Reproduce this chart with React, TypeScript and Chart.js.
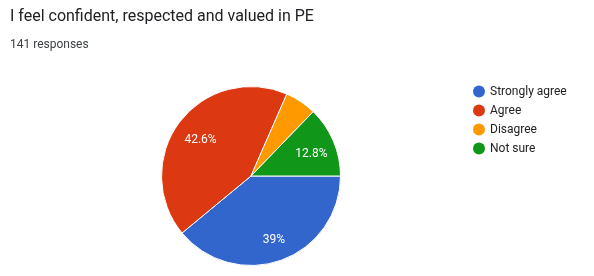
import React, { useEffect, useRef } from "react";
import { Chart, registerables } from "chart.js";

Chart.register(...registerables);

const titleText = "I feel confident, respected and valued in PE";
const subtitleText = "141 responses";
const categories = ["Strongly agree", "Agree", "Disagree", "Not sure"];
const counts = [55, 60, 8, 18];
const percentLabels = ["39%", "42.6%", "", "12.8%"];
const colors = ["#3366cc", "#dc3912", "#ff9900", "#109618"];

const FONT = "Roboto, Arial, sans-serif";

const customPlugin = {
  id: "customDraw",
  afterDatasetsDraw(chart: any) {
    const ctx = chart.ctx;
    const meta = chart.getDatasetMeta(0);
    ctx.save();
    // slice labels
    ctx.fillStyle = "#ffffff";
    ctx.font = `12px ${FONT}`;
    ctx.textAlign = "center";
    ctx.textBaseline = "middle";
    meta.data.forEach((arc: any, i: number) => {
      const lbl = percentLabels[i];
      if (!lbl) return;
      const p = arc.getProps(["x", "y", "startAngle", "endAngle", "outerRadius"], true);
      const mid = (p.startAngle + p.endAngle) / 2;
      const r = p.outerRadius * 0.72;
      ctx.fillText(lbl, p.x + Math.cos(mid) * r + 1, p.y + Math.sin(mid) * r + 3);
    });
    // title
    ctx.textAlign = "left";
    ctx.textBaseline = "alphabetic";
    ctx.fillStyle = "#202124";
    ctx.font = `16px ${FONT}`;
    ctx.fillText(titleText, 10, 21);
    ctx.fillStyle = "#3c4043";
    ctx.font = `12px ${FONT}`;
    ctx.fillText(subtitleText, 10, 48);
    // legend
    const labels = chart.data.labels as string[];
    labels.forEach((lab, i) => {
      const cy = 91.5 + i * 19;
      ctx.beginPath();
      ctx.arc(479, cy, 6, 0, Math.PI * 2);
      ctx.fillStyle = chart.data.datasets[0].backgroundColor[i];
      ctx.fill();
      ctx.fillStyle = "#222222";
      ctx.font = `12px ${FONT}`;
      ctx.textBaseline = "middle";
      ctx.fillText(lab, 490, cy + 0.5);
    });
    ctx.restore();
  },
};

export default function App() {
  const ref = useRef<HTMLCanvasElement | null>(null);
  useEffect(() => {
    if (!ref.current) return;
    const chart = new Chart(ref.current, {
      type: "pie",
      data: {
        labels: categories,
        datasets: [
          {
            data: counts,
            backgroundColor: colors,
            borderColor: "#ffffff",
            borderWidth: 1,
          },
        ],
      },
      options: {
        responsive: false,
        animation: false,
        rotation: 90,
        layout: { padding: { left: 161, right: 253, top: 86, bottom: 10 } },
        plugins: {
          legend: { display: false },
          tooltip: { enabled: false },
        },
      },
      plugins: [customPlugin],
    });
    return () => chart.destroy();
  }, []);
  return (
    <div style={{ position: "fixed", left: 0, top: 0, width: 594, height: 276, background: "#fff" }}>
      <canvas ref={ref} width={594} height={276} />
    </div>
  );
}
